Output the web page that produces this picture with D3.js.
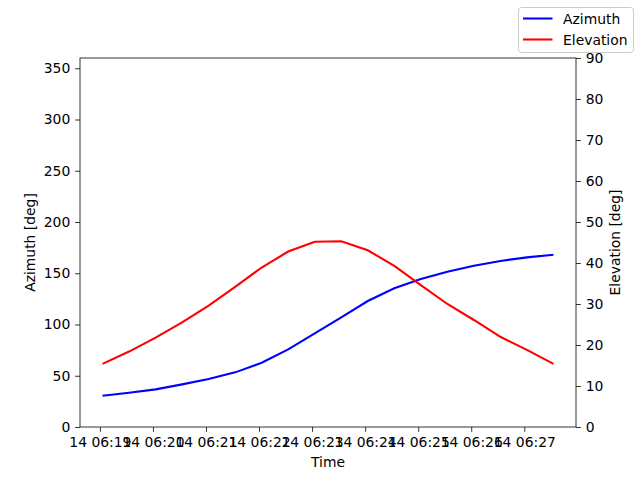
<!DOCTYPE html>
<html><head><meta charset="utf-8">
<script src="https://cdn.jsdelivr.net/npm/d3@7"></script>
<style>body{margin:0;background:#fff}svg{display:block}text{font-family:"DejaVu Sans",sans-serif}</style>
</head><body><svg id="c" width="640" height="480"></svg>
<script>
// Data
const startTime = "2024-01-14T06:19:03Z";
const stepSeconds = 30;
const azimuth = [30.5,33.5,36.7,41.6,46.8,53.3,62.7,75.8,91.4,107.0,122.9,135.3,144.4,151.5,157.4,162.0,165.5,168.1];
const elevation = [15.4,18.4,21.8,25.5,29.6,34.2,38.9,42.8,45.2,45.3,43.1,39.3,34.6,30.0,26.1,22.0,18.8,15.4];
const azTicks = [0,50,100,150,200,250,300,350];
const elTicks = [0,10,20,30,40,50,60,70,80,90];
const seriesNames = ["Azimuth","Elevation"];
const seriesColors = ["#0000ff","#ff0000"];

const t0 = new Date(startTime).getTime();
const times = azimuth.map((_, i) => new Date(t0 + i * stepSeconds * 1000));

const svg = d3.select("#c");
const L = 80, R = 576, T = 58, B = 427;
const span = times[times.length-1] - times[0];
const x = d3.scaleUtc()
  .domain([new Date(+times[0] - 0.05*span), new Date(+times[times.length-1] + 0.05*span)])
  .range([L, R]);
const yL = d3.scaleLinear().domain([0,360]).range([B, T]);
const yR = d3.scaleLinear().domain([0,90]).range([B, T]);

const fs = "13.9px";
const xAxis = d3.axisBottom(x).ticks(d3.utcMinute.every(1)).tickFormat(d3.utcFormat("%d %H:%M")).tickSizeOuter(0).tickSize(4.86).tickPadding(4.86);
const gx = svg.append("g").attr("transform", `translate(0,${B})`).call(xAxis);
const gl = svg.append("g").attr("transform", `translate(${L},0)`).call(d3.axisLeft(yL).tickValues(azTicks).tickSizeOuter(0).tickSize(4.86).tickPadding(4.86));
const gr = svg.append("g").attr("transform", `translate(${R},0)`).call(d3.axisRight(yR).tickValues(elTicks).tickSizeOuter(0).tickSize(4.86).tickPadding(4.86));
[gx,gl,gr].forEach(g => {
  g.select(".domain").remove();
  g.selectAll("text").attr("font-size", fs).attr("fill","#000").attr("font-family","DejaVu Sans");
  g.selectAll("line").attr("stroke","#000").attr("stroke-width",0.8);
});

// frame
svg.append("rect").attr("x",L).attr("y",T).attr("width",R-L).attr("height",B-T)
  .attr("fill","none").attr("stroke","#000").attr("stroke-width",0.8);

const lineAz = d3.line().x((d,i)=>x(times[i])).y(d=>yL(d));
const lineEl = d3.line().x((d,i)=>x(times[i])).y(d=>yR(d));
svg.append("path").datum(azimuth).attr("d", lineAz).attr("fill","none").attr("stroke",seriesColors[0]).attr("stroke-width",2.08);
svg.append("path").datum(elevation).attr("d", lineEl).attr("fill","none").attr("stroke",seriesColors[1]).attr("stroke-width",2.08);

// axis labels
svg.append("text").attr("x",(L+R)/2).attr("y",467).attr("text-anchor","middle").attr("font-size",fs).text("Time");
svg.append("text").attr("transform",`translate(35,${(T+B)/2}) rotate(-90)`).attr("text-anchor","middle").attr("font-size",fs).text("Azimuth [deg]");
svg.append("text").attr("transform",`translate(620,${(T+B)/2}) rotate(-90)`).attr("text-anchor","middle").attr("font-size",fs).text("Elevation [deg]");

// legend
const lg = svg.append("g");
lg.append("rect").attr("x",518.5).attr("y",7.5).attr("width",115).attr("height",45).attr("rx",3)
  .attr("fill","#fff").attr("fill-opacity",0.8).attr("stroke","#cccccc").attr("stroke-width",1);
seriesNames.forEach((n,i)=>{
  const yy = 18.5 + i*21;
  lg.append("line").attr("x1",523).attr("x2",552.5).attr("y1",yy).attr("y2",yy).attr("stroke",seriesColors[i]).attr("stroke-width",2.08);
  lg.append("text").attr("x",563).attr("y",yy+5).attr("font-size",fs).text(n);
});
</script></body></html>
